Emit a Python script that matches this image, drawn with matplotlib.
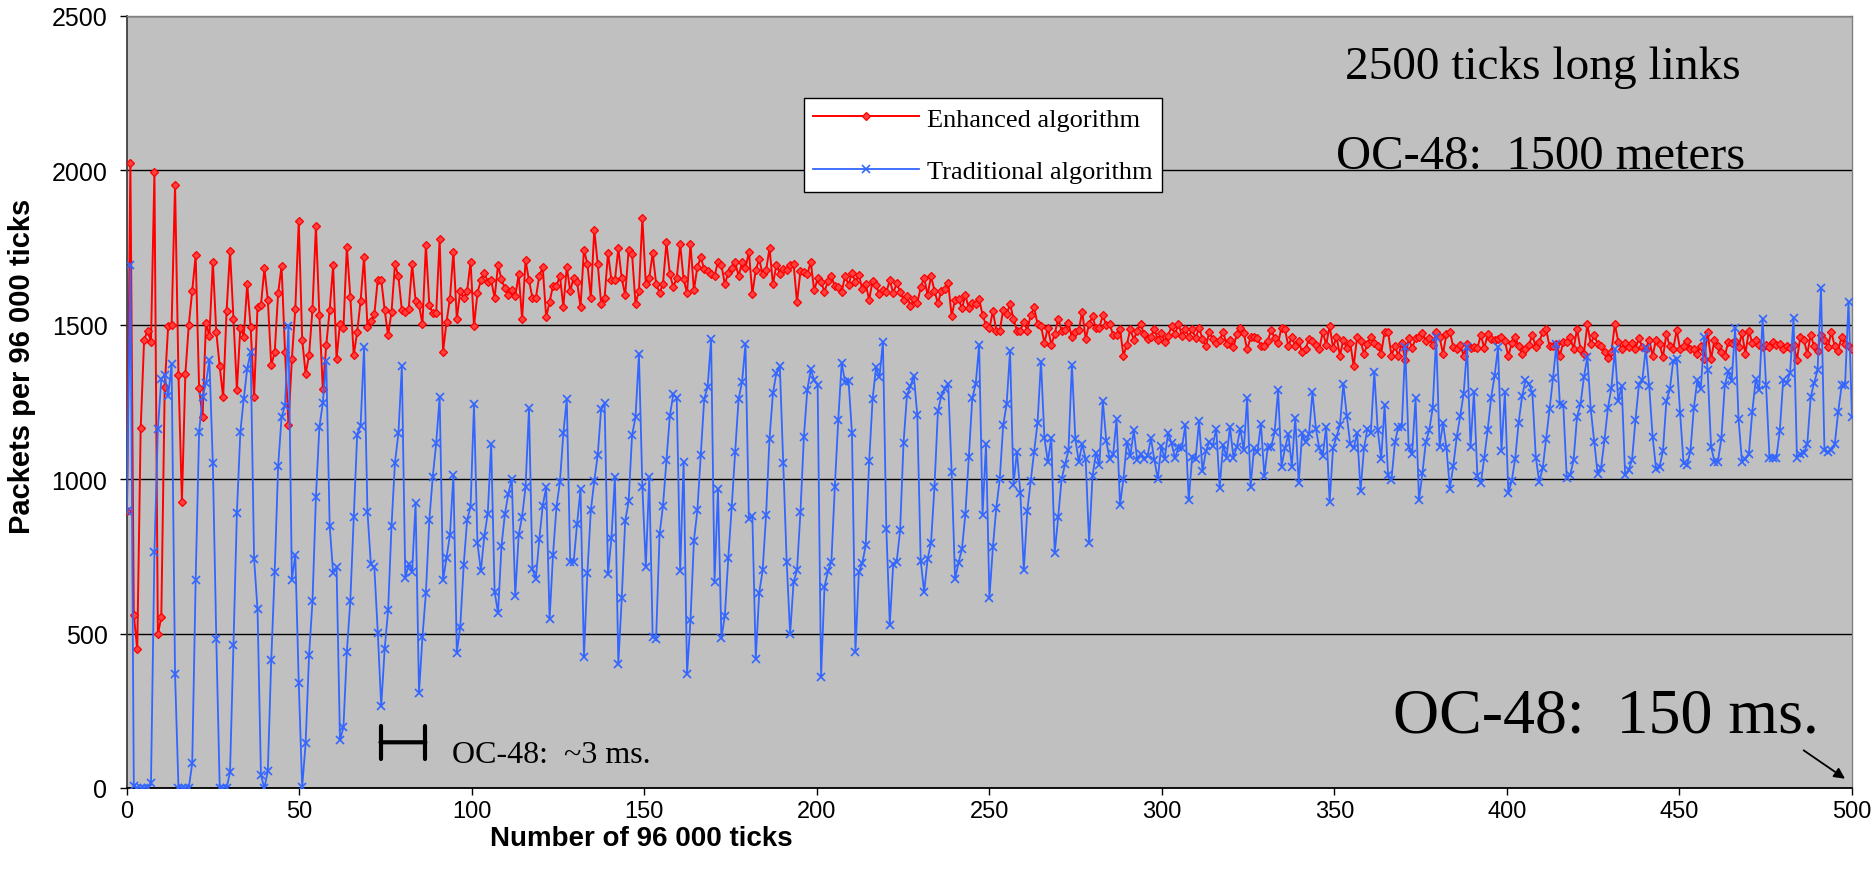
import numpy as np
import matplotlib
matplotlib.use("Agg")
import matplotlib.pyplot as plt

# values, one per step of 96 000 ticks
enhanced = [
    896, 2025, 560, 450, 1166, 1452, 1480, 1445, 1994, 498, 553, 1300, 1496, 1500, 1954, 1337, 927, 1340, 1500, 1610,
    1725, 1296, 1200, 1506, 1463, 1704, 1476, 1365, 1265, 1545, 1738, 1520, 1290, 1491, 1462, 1631, 1492, 1265, 1559, 1564,
    1683, 1581, 1369,
    1411, 1602, 1690, 1413, 1177, 1390, 1552, 1836, 1452, 1341, 1401, 1552, 1821, 1532, 1292, 1433, 1548, 1692, 1390, 1504,
    1488, 1753, 1591, 1402, 1476, 1577, 1721, 1493, 1511, 1534, 1646, 1646, 1548, 1466, 1542, 1696, 1657, 1548, 1541, 1552,
    1696, 1577,
    1563, 1503, 1758, 1563, 1538, 1538, 1777, 1413, 1509, 1584, 1737, 1519, 1609, 1587, 1609, 1704, 1495, 1603, 1644, 1669,
    1639, 1644, 1587, 1694, 1647, 1618, 1598, 1612, 1593, 1663, 1519, 1709, 1644, 1587, 1587, 1658, 1687, 1524, 1574, 1627,
    1627, 1658,
    1558, 1688, 1609, 1652, 1639, 1558, 1743, 1698, 1587, 1808, 1698, 1568, 1587, 1732, 1644, 1644, 1747, 1650, 1596, 1743,
    1729, 1568, 1609, 1846, 1631, 1652, 1732, 1633, 1603, 1633, 1767, 1663, 1622, 1652, 1761, 1647, 1603, 1761, 1612, 1687,
    1718, 1680,
    1674, 1666, 1658, 1704, 1694, 1631, 1669, 1683, 1702, 1658, 1702, 1683, 1737, 1600, 1678, 1712, 1663, 1676, 1748, 1631,
    1694, 1666, 1680, 1676, 1694, 1698, 1573, 1674, 1672, 1663, 1704, 1611, 1650, 1639, 1607, 1641, 1658, 1625, 1622, 1607,
    1658, 1629, 1669,
    1639, 1661, 1615, 1631, 1581, 1642, 1628, 1599, 1613, 1605, 1645, 1602, 1635, 1607, 1581, 1594, 1561, 1583, 1570, 1621,
    1653, 1596, 1658, 1610, 1570, 1610, 1615, 1635, 1529, 1581, 1585, 1553, 1596, 1553, 1572, 1567, 1585, 1531, 1499, 1488,
    1545, 1481,
    1481, 1548, 1534, 1567, 1520, 1481, 1481, 1510, 1481, 1531, 1556, 1502, 1497, 1441, 1491, 1435, 1470, 1520, 1481, 1483,
    1505, 1459, 1477, 1484, 1542, 1454, 1502, 1527, 1488, 1491, 1531, 1499, 1502, 1467, 1467, 1486, 1400, 1436, 1486, 1452,
    1481, 1502, 1470,
    1454, 1462, 1486, 1452, 1473, 1445, 1465, 1495, 1470, 1502, 1465, 1486, 1462, 1486, 1456, 1491, 1454, 1430, 1477, 1454,
    1441, 1452, 1477, 1438, 1452, 1427, 1470, 1491, 1473, 1420, 1459, 1462, 1456, 1432, 1430, 1448, 1484, 1456, 1441, 1491,
    1486, 1430, 1462,
    1430, 1448, 1411, 1422, 1454, 1448, 1435, 1422, 1477, 1435, 1497, 1424, 1462, 1400, 1452, 1424, 1441, 1366, 1462, 1448,
    1406, 1438, 1462, 1441, 1432, 1406, 1477, 1477, 1400, 1430, 1400, 1441, 1386, 1456, 1424, 1456, 1462, 1473, 1448, 1456,
    1435, 1475,
    1459, 1406, 1470, 1477, 1427, 1420, 1435, 1400, 1438, 1424, 1427, 1424, 1467, 1424, 1470, 1454, 1452, 1454, 1459, 1448,
    1398, 1441, 1462, 1430, 1406, 1420, 1435, 1467, 1427, 1445, 1475, 1486, 1430, 1430, 1438, 1400, 1443, 1443, 1459, 1422,
    1486,
    1422, 1406, 1502, 1438, 1467, 1438, 1432, 1411, 1392, 1411, 1502, 1445, 1422, 1441, 1427, 1441, 1422, 1456, 1427, 1422,
    1452, 1400, 1452, 1438, 1395, 1470, 1430, 1422, 1483, 1420, 1430, 1448, 1422, 1420, 1406, 1432, 1388, 1477, 1388, 1452,
    1432, 1413,
    1398, 1445, 1441, 1448, 1427, 1473, 1406, 1481, 1441, 1452, 1435, 1427, 1435, 1427, 1445, 1435, 1438, 1422, 1432, 1424,
    1435, 1387, 1462, 1452, 1406, 1467, 1430, 1416, 1467, 1452, 1427, 1477, 1430, 1416, 1462, 1438, 1432, 1422,
]

traditional = [
    896, 1694, 7, 0, 0, 0, 0, 17, 763, 1162, 1324, 1338, 1268, 1372, 369, 0, 0, 0, 0, 80,
    675, 1152, 1266, 1311, 1386, 1051, 484, 0, 0, 0, 51, 463, 892, 1152, 1261, 1358, 1411, 743, 578, 41,
    0, 55, 415,
    701, 1042, 1201, 1238, 1497, 675, 754, 340, 3, 145, 430, 605, 942, 1168, 1247, 1382, 849, 697, 714, 156,
    196, 440, 605, 878, 1144, 1173, 1429, 893, 724, 714, 503, 265, 450, 575, 849, 1054, 1148, 1365, 681, 724,
    701, 922,
    309, 489, 632, 868, 1008, 1117, 1266, 672, 746, 819, 1012, 438, 522, 721, 868, 910, 1242, 794, 702, 816,
    888, 1113, 636, 566, 784, 888, 953, 1002, 621, 819, 879, 974, 1230, 708, 678, 805, 914, 974, 547, 756,
    910, 991,
    1148, 1260, 732, 732, 855, 968, 424, 696, 899, 994, 1077, 1228, 1247, 692, 810, 1008, 402, 615, 865, 928,
    1143, 1200, 1404, 974, 716, 1008, 489, 484, 821, 914, 1062, 1206, 1275, 1264, 702, 1056, 370, 544, 801, 899,
    1077, 1260,
    1300, 1453, 668, 968, 485, 558, 745, 910, 1088, 1260, 1314, 1437, 870, 881, 419, 632, 705, 884, 1131, 1279,
    1344, 1366, 1053, 732, 498, 667, 705, 893, 1137, 1289, 1356, 1320, 1306, 360, 651, 702, 732, 974, 1191, 1377,
    1314, 1317,
    1149, 441, 699, 728, 786, 1058, 1260, 1362, 1330, 1445, 839, 527, 726, 732, 834, 1117, 1273, 1301, 1335, 1208,
    735, 635, 741, 794, 974, 1220, 1270, 1292, 1308, 1023, 676, 730, 773, 888, 1071, 1262, 1308, 1435, 885, 1114,
    616, 780,
    907, 1000, 1175, 1242, 1416, 982, 1089, 955, 705, 896, 993, 1089, 1183, 1381, 1134, 1057, 1134, 760, 877, 1000,
    1048, 1094, 1371, 1130, 1057, 1114, 1065, 794, 1009, 1086, 1046, 1253, 1124, 1064, 1080, 1194, 917, 1001, 1121, 1075,
    1159, 1062,
    1080, 1065, 1076, 1132, 1062, 1001, 1108, 1065, 1151, 1116, 1068, 1103, 1100, 1175, 931, 1073, 1065, 1189, 1025, 1092,
    1121, 1108, 1164, 973, 1111, 1070, 1170, 1070, 1105, 1164, 1094, 1263, 976, 1100, 1087, 1180, 1011, 1103, 1105, 1153,
    1288, 1041, 1100,
    1145, 1041, 1199, 987, 1148, 1119, 1145, 1282, 1164, 1100, 1076, 1170, 926, 1100, 1137, 1175, 1309, 1205, 1113, 1100,
    1151, 962, 1100, 1164, 1151, 1347, 1159, 1065, 1239, 1012, 998, 1119, 1170, 1170, 1427, 1105, 1080, 1263, 931, 1019,
    1121, 1159, 1231,
    1462, 1105, 1183, 1100, 969, 1044, 1137, 1204, 1277, 1427, 1105, 1282, 1009, 987, 1070, 1159, 1264, 1334, 1427, 1091,
    1282, 955, 995, 1066, 1183, 1268, 1320, 1309, 1280, 1070, 992, 1035, 1130, 1226, 1327, 1438, 1245, 1239, 1005, 1014,
    1062, 1202,
    1242, 1330, 1397, 1226, 1121, 1017, 1037, 1128, 1232, 1295, 1420, 1253, 1302, 1012, 1030, 1062, 1191, 1304, 1320, 1424,
    1302, 1137, 1033, 1041, 1091, 1253, 1291, 1384, 1390, 1213, 1051, 1046, 1091, 1232, 1320, 1291, 1459, 1355, 1105, 1057,
    1057, 1132,
    1304, 1349, 1317, 1488, 1194, 1057, 1066, 1081, 1219, 1323, 1289, 1520, 1306, 1070, 1070, 1070, 1156, 1321, 1311, 1345,
    1523, 1070, 1081, 1084, 1113, 1266, 1312, 1352, 1620, 1094, 1087, 1094, 1113, 1218, 1304, 1304, 1575, 1202,
]

x_ticks = list(range(0, 501, 50))
y_ticks = list(range(0, 2501, 500))

SANS = "Liberation Sans"
SERIF = "Liberation Serif"

fig = plt.figure(figsize=(18.75, 8.79), dpi=100)
ax = fig.add_axes([0.0677, 0.1024, 0.9200, 0.8783])
ax.set_facecolor("#C0C0C0")

x_enh = np.linspace(0, 500, len(enhanced))
x_trad = np.linspace(0, 500, len(traditional))

ax.plot(x_enh, enhanced, color="#FF0000", lw=1.4, marker="D", ms=4.2,
        mfc="#FF4040", mec="#FF0000", mew=0.9, label="Enhanced algorithm", zorder=3)
ax.plot(x_trad, traditional, color="#3366FF", lw=1.3, marker="x", ms=5.5,
        mew=1.2, label="Traditional algorithm", zorder=4)

ax.set_xlim(0, 500)
ax.set_ylim(0, 2500)
ax.set_xticks(x_ticks)
ax.set_yticks(y_ticks)
ax.tick_params(axis="both", labelsize=17, direction="out", length=5, width=1, colors="black")
ax.tick_params(axis="y", labelsize=18, pad=9)
ax.tick_params(axis="x", pad=4)
for lab in ax.get_xticklabels() + ax.get_yticklabels():
    lab.set_fontfamily(SANS)

ax.yaxis.grid(True, color="black", lw=1)
ax.set_axisbelow(True)
for side in ["top", "right"]:
    ax.spines[side].set_color("#808080")
    ax.spines[side].set_linewidth(1)
ax.spines["left"].set_color("#404040")
ax.spines["bottom"].set_color("black")
ax.spines["left"].set_linewidth(1.3)
ax.spines["bottom"].set_linewidth(1.3)

fig.text(0.0115, 0.583, "Packets per 96 000 ticks", rotation=90, ha="center", va="center",
         fontsize=21, fontweight="bold", family=SANS)
fig.text(0.342, 0.045, "Number of 96 000 ticks", ha="center", va="center",
         fontsize=20, fontweight="bold", family=SANS)

leg = ax.legend(loc="upper left", bbox_to_anchor=(0.3925, 0.894), prop={"family": SERIF, "size": 19},
                frameon=True, fancybox=False, framealpha=1, edgecolor="black",
                handlelength=4.0, handletextpad=0.3, labelspacing=1.1, borderpad=0.35,
                borderaxespad=0)
leg.get_frame().set_linewidth(1.0)

ax.text(0.706, 0.934, "2500 ticks long links", transform=ax.transAxes, ha="left", va="center",
        fontsize=34, family=SERIF)
ax.text(0.701, 0.819, "OC-48:  1500 meters", transform=ax.transAxes, ha="left", va="center",
        fontsize=35, family=SERIF)
ax.text(0.734, 0.093, "OC-48:  150 ms.", transform=ax.transAxes, ha="left", va="center",
        fontsize=46, family=SERIF)
ax.text(0.1885, 0.044, "OC-48:  ~3 ms.", transform=ax.transAxes, ha="left", va="center",
        fontsize=23, family=SERIF)

# 3 ms scale bar and arrow to the end of the run
ax.annotate("", xy=(73.5, 148), xytext=(86.5, 148),
            arrowprops=dict(arrowstyle="|-|,widthA=0.6,widthB=0.6", lw=3, color="black",
                            shrinkA=0, shrinkB=0, mutation_scale=20))
ax.annotate("", xy=(498, 30), xytext=(486, 122),
            arrowprops=dict(arrowstyle="-|>", lw=1.3, color="black", shrinkA=0, shrinkB=0,
                            mutation_scale=16))

fig.savefig("out.png", dpi=100, facecolor="white")
